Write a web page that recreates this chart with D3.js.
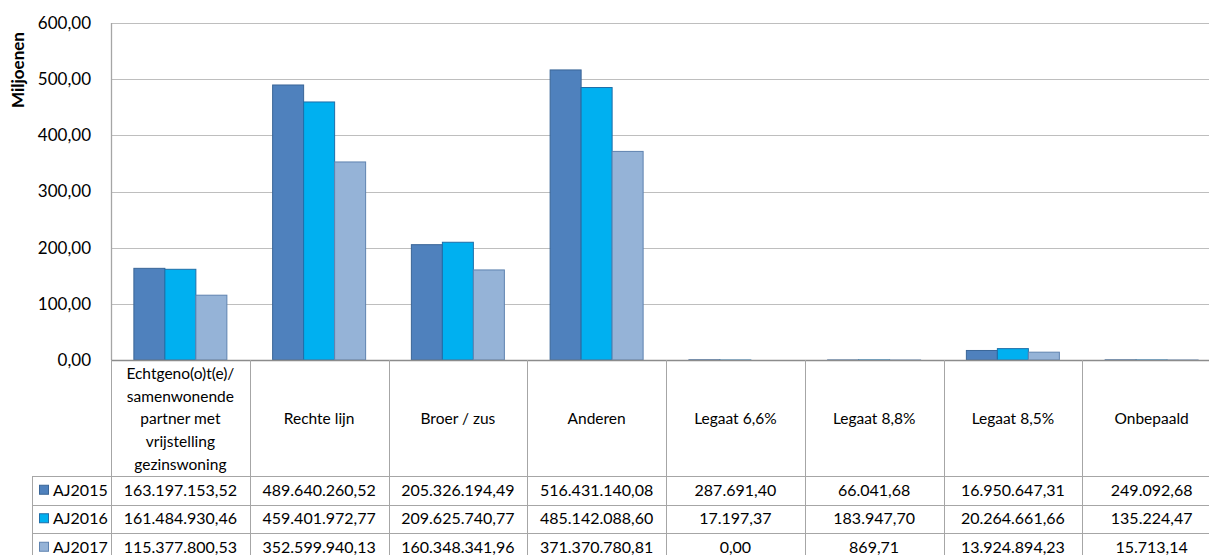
<!DOCTYPE html>
<html>
<head>
<meta charset="utf-8">
<script src="https://cdn.jsdelivr.net/npm/d3@7"></script>
<style>
  html, body { margin: 0; padding: 0; background: #fff; }
  svg { display: block; }
  text { font-family: Lato, "Open Sans", sans-serif; fill: #000; }
</style>
</head>
<body>
<svg id="chart" width="1209" height="555"></svg>
<script>
// ---- data ----
const categories = [
  "Echtgeno(o)t(e)/ samenwonende partner met vrijstelling gezinswoning",
  "Rechte lijn", "Broer / zus", "Anderen",
  "Legaat 6,6%", "Legaat 8,8%", "Legaat 8,5%", "Onbepaald"
];
const categoryLines = [
  ["Echtgeno(o)t(e)/", "samenwonende", "partner met", "vrijstelling", "gezinswoning"],
  ["Rechte lijn"], ["Broer / zus"], ["Anderen"],
  ["Legaat 6,6%"], ["Legaat 8,8%"], ["Legaat 8,5%"], ["Onbepaald"]
];
const seriesNames = ["AJ2015", "AJ2016", "AJ2017"];
const aj2015 = [163197153.52, 489640260.52, 205326194.49, 516431140.08, 287691.40, 66041.68, 16950647.31, 249092.68];
const aj2016 = [161484930.46, 459401972.77, 209625740.77, 485142088.60, 17197.37, 183947.70, 20264661.66, 135224.47];
const aj2017 = [115377800.53, 352599940.13, 160348341.96, 371370780.81, 0.00, 869.71, 13924894.23, 15713.14];
const seriesValues = [aj2015, aj2016, aj2017];
const yTicks = [0, 100, 200, 300, 400, 500, 600];
const axisTitle = "Miljoenen";

// ---- styles ----
const colors = ["#4F81BD", "#00B0F0", "#95B3D7"];
const strokes = ["#3A6597", "#1F6EA8", "#5F83B0"];

const svg = d3.select("#chart");
const nl = d3.formatLocale({decimal: ",", thousands: ".", grouping: [3], currency: ["€", ""]});
const fmtTable = nl.format(",.2f");
const fmtAxis = nl.format(".2f");

const plotLeft = 111, plotRight = 1221, plotTop = 23, plotBottom = 360;
const x0 = d3.scaleBand().domain(categories).range([plotLeft, plotRight]).paddingInner(0).paddingOuter(0);
const x1 = d3.scaleBand().domain(seriesNames).range([0, x0.bandwidth()]).paddingInner(0).paddingOuter(0.738);
const y = d3.scaleLinear().domain([0, 600]).range([plotBottom, plotTop]);

// gridlines
svg.append("g").selectAll("line").data(yTicks.filter(t => t > 0)).join("line")
  .attr("x1", plotLeft).attr("x2", plotRight)
  .attr("y1", d => Math.round(y(d)) + 0.5).attr("y2", d => Math.round(y(d)) + 0.5)
  .attr("stroke", "#BEBEBE").attr("stroke-width", 1.2);

// y axis labels
const yAxis = d3.axisLeft(y).tickValues(yTicks).tickFormat(fmtAxis).tickSize(0).tickPadding(20);
const ya = svg.append("g").attr("transform", `translate(${plotLeft},0)`).call(yAxis);
ya.select(".domain").remove();
ya.selectAll("text").style("font-family", "Lato, sans-serif").style("font-size", "17px").attr("fill", "#000");

// axis title
svg.append("text").attr("transform", "translate(24,70) rotate(-90)")
  .attr("text-anchor", "middle").style("font-size", "17px").style("font-weight", "bold").text(axisTitle);

// bars
const rows = [];
categories.forEach((c, i) => seriesNames.forEach((s, j) => rows.push({c, s, j, v: seriesValues[j][i] / 1e6})));
svg.append("g").selectAll("rect").data(rows).join("rect")
  .attr("x", d => x0(d.c) + x1(d.s))
  .attr("y", d => y(d.v))
  .attr("width", x1.bandwidth())
  .attr("height", d => Math.max(0, y(0) - y(d.v)))
  .attr("fill", d => colors[d.j])
  .attr("stroke", d => strokes[d.j]).attr("stroke-width", 1);

// left axis line
svg.append("line").attr("x1", plotLeft + 0.5).attr("x2", plotLeft + 0.5)
  .attr("y1", plotTop).attr("y2", plotBottom).attr("stroke", "#A6A6A6").attr("stroke-width", 1.3);

// ---- data table ----
const headerBottom = 476, rowH = 28.5;
const legendLeft = 32;
const tableBottom = headerBottom + rowH * seriesNames.length;
const gridColor = "#A6A6A6";
const tg = svg.append("g");

// horizontal table lines
const hLines = [plotBottom, headerBottom, headerBottom + rowH, headerBottom + 2 * rowH, tableBottom];
tg.selectAll("line.h").data(hLines).join("line").attr("class", "h")
  .attr("x1", (d, i) => i === 0 ? plotLeft : legendLeft).attr("x2", plotRight)
  .attr("y1", d => Math.round(d) + 0.5).attr("y2", d => Math.round(d) + 0.5)
  .attr("stroke", (d, i) => i === 0 ? "#8C8C8C" : gridColor).attr("stroke-width", (d, i) => i === 0 ? 1.5 : 1);

// vertical table lines (category boundaries)
const vx = categories.map(c => x0(c)).concat([plotRight]);
tg.selectAll("line.v").data(vx).join("line").attr("class", "v")
  .attr("x1", d => Math.round(d) + 0.5).attr("x2", d => Math.round(d) + 0.5)
  .attr("y1", plotBottom).attr("y2", tableBottom).attr("stroke", gridColor);
tg.append("line").attr("x1", legendLeft + 0.5).attr("x2", legendLeft + 0.5)
  .attr("y1", headerBottom).attr("y2", tableBottom).attr("stroke", gridColor);

// category labels
const lineH = 22.8;
const headerMid = (plotBottom + headerBottom) / 2 + 1;
categories.forEach((c, i) => {
  const lines = categoryLines[i];
  const cx = x0(c) + x0.bandwidth() / 2;
  const t = tg.append("text").attr("text-anchor", "middle").style("font-size", "15.5px");
  lines.forEach((ln, k) => {
    t.append("tspan").attr("x", cx)
      .attr("y", headerMid + (k - (lines.length - 1) / 2) * lineH)
      .attr("dy", "0.35em").text(ln);
  });
});

// legend keys + values
seriesNames.forEach((s, j) => {
  const cy = headerBottom + rowH * j + rowH / 2;
  tg.append("rect").attr("x", 39.5).attr("y", cy - 5).attr("width", 9).attr("height", 9)
    .attr("fill", colors[j]).attr("stroke", strokes[j]);
  tg.append("text").attr("x", 53).attr("y", cy).attr("dy", "0.35em")
    .style("font-size", "16px").text(s);
  categories.forEach((c, i) => {
    tg.append("text").attr("x", x0(c) + x0.bandwidth() / 2).attr("y", cy).attr("dy", "0.35em")
      .attr("text-anchor", "middle").style("font-size", "16px").text(fmtTable(seriesValues[j][i]));
  });
});
</script>
</body>
</html>
